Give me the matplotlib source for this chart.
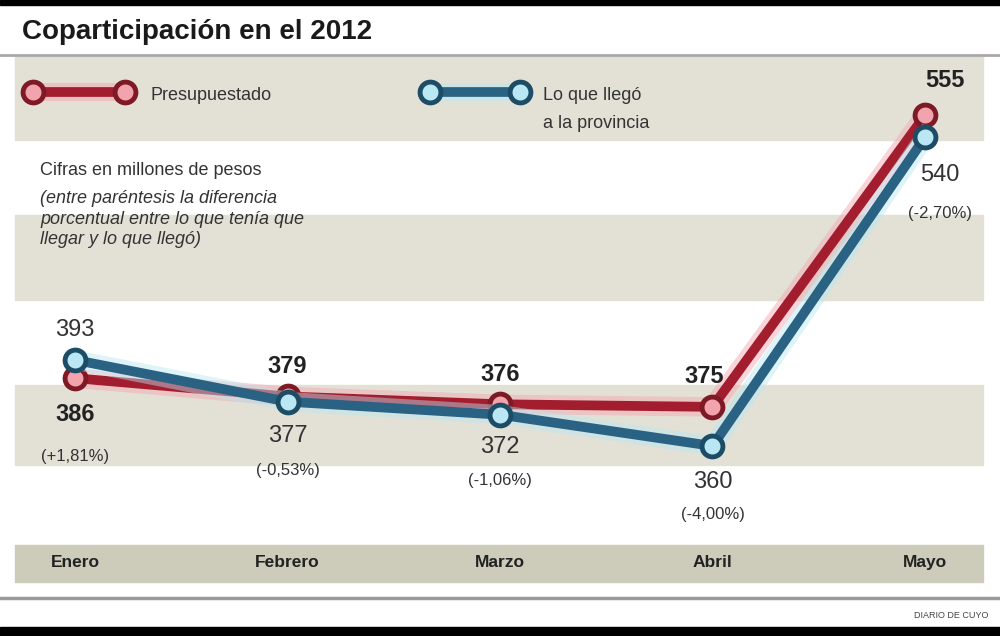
import numpy as np
import matplotlib.pyplot as plt
from matplotlib.patches import Rectangle
from matplotlib.lines import Line2D

plt.rcParams['font.family'] = ['Liberation Sans', 'DejaVu Sans']

# datos (millones de pesos)
meses = ['Enero', 'Febrero', 'Marzo', 'Abril', 'Mayo']
presupuestado = [386, 379, 376, 375, 555]
llego = [393, 377, 372, 360, 540]
diferencia = ['(+1,81%)', '(-0,53%)', '(-1,06%)', '(-4,00%)', '(-2,70%)']

# colores
rojo, rojo_claro, rojo_borde = '#a21d2e', '#f3a3ad', '#7e1a26'
azul, azul_claro, azul_borde = '#2a6283', '#b9e7f3', '#1d4d66'
beige, beige_eje = '#e3e1d6', '#cdccbb'

W, H = 1000, 636
fig = plt.figure(figsize=(W / 100, H / 100), dpi=100)


def fy(py):
    return 1 - py / H


def fx(px):
    return px / W


# fondo: franjas horizontales
for y0, y1, c in [(57, 140, beige), (215, 300, beige), (385, 465, beige), (545, 582, beige_eje)]:
    fig.patches.append(Rectangle((fx(15), fy(y1)), fx(968), (y1 - y0) / H,
                                 transform=fig.transFigure, color=c, zorder=-5))
# barras negras y líneas grises
fig.patches.append(Rectangle((0, fy(5)), 1, 5 / H, transform=fig.transFigure, color='black', zorder=-4))
fig.patches.append(Rectangle((0, 0), 1, 9 / H, transform=fig.transFigure, color='black', zorder=-4))
fig.lines.append(Line2D([0, 1], [fy(55), fy(55)], transform=fig.transFigure, color='#a8a8a8', lw=2, zorder=-4))
fig.lines.append(Line2D([0, 1], [fy(598), fy(598)], transform=fig.transFigure, color='#9a9a9a', lw=2.5, zorder=-4))

fig.text(fx(22), fy(32), 'Coparticipación en el 2012', fontsize=20, fontweight='bold',
         color='#1a1a1a', va='center', ha='left')
fig.text(fx(988), fy(615), 'DIARIO DE CUYO', fontsize=6.5, color='#444444', ha='right', va='center')

# leyenda
for (xa, xb), col, clr, brd in [((33, 125), rojo, rojo_claro, rojo_borde), ((430, 520), azul, azul_claro, azul_borde)]:
    fig.lines.append(Line2D([fx(xa), fx(xb)], [fy(92), fy(92)], transform=fig.transFigure,
                            color=clr, lw=13, alpha=0.5, solid_capstyle='round', zorder=-3))
    fig.lines.append(Line2D([fx(xa), fx(xb)], [fy(92), fy(92)], transform=fig.transFigure,
                            color=col, lw=7, marker='o', markersize=15, markerfacecolor=clr,
                            markeredgecolor=brd, markeredgewidth=3.5, zorder=-2))
fig.text(fx(150), fy(95), 'Presupuestado', fontsize=13, color='#333333', va='center')
fig.text(fx(543), fy(95), 'Lo que llegó', fontsize=13, color='#333333', va='center')
fig.text(fx(543), fy(124), 'a la provincia', fontsize=13, color='#333333', va='center')

fig.text(fx(40), fy(170), 'Cifras en millones de pesos', fontsize=13, color='#333333', va='center')
fig.text(fx(40), fy(219), '(entre paréntesis la diferencia\nporcentual entre lo que tenía que\nllegar y lo que llegó)',
         fontsize=13, color='#333333', va='center', style='italic', linespacing=1.25)

# ejes de datos sobre toda la figura
ax = fig.add_axes([0, 0, 1, 1])
ax.set_facecolor('none')
ax.set_zorder(5)


def fwd(v):
    v = np.asarray(v, dtype=float)
    return np.where(v < 400, v, 400 + (v - 400) * 0.56)


def inv(t):
    t = np.asarray(t, dtype=float)
    return np.where(t < 400, t, 400 + (t - 400) / 0.56)


ax.set_yscale('function', functions=(fwd, inv))
x = np.arange(len(meses))
ax.set_xlim(-0.353, 4.353)
ax.set_ylim(287.1, 634.1)
ax.axis('off')

for serie, col, clr, brd, z in [(presupuestado, rojo, rojo_claro, rojo_borde, 3),
                                (llego, azul, azul_claro, azul_borde, 5)]:
    ax.plot(x, serie, color=clr, lw=14, alpha=0.45, zorder=z, solid_joinstyle='round')
    ax.plot(x, serie, color=col, lw=7, zorder=z + 1, marker='o', markersize=15,
            markerfacecolor=clr, markeredgecolor=brd, markeredgewidth=3.5, solid_joinstyle='round')

# etiquetas (desplazamientos en píxeles)
off_rojo = [(0, -36), (0, 30), (0, 30), (-8, 30), (20, 35)]
off_azul = [(0, 30), (0, -34), (0, -32), (0, -36), (15, -38)]
off_pct = [(0, -78), (0, -69), (0, -66), (0, -69), (15, -76)]
for i in range(len(meses)):
    ax.annotate(str(presupuestado[i]), (x[i], presupuestado[i]), xytext=off_rojo[i],
                textcoords='offset pixels', ha='center', va='center', fontsize=17,
                fontweight='bold', color='#222222', zorder=10)
    ax.annotate(str(llego[i]), (x[i], llego[i]), xytext=off_azul[i],
                textcoords='offset pixels', ha='center', va='center', fontsize=17,
                color='#333333', zorder=10)
    ref = presupuestado[i] if i == 0 else llego[i]
    ax.annotate(diferencia[i], (x[i], ref), xytext=off_pct[i],
                textcoords='offset pixels', ha='center', va='center', fontsize=12,
                color='#333333', zorder=10)

for i, m in enumerate(meses):
    ax.text(x[i], inv(287.1 + (636 - 563) / 2.606), m, ha='center', va='center', fontsize=12.5,
            fontweight='bold', color='#222222')

fig.savefig('out.png', dpi=100)
